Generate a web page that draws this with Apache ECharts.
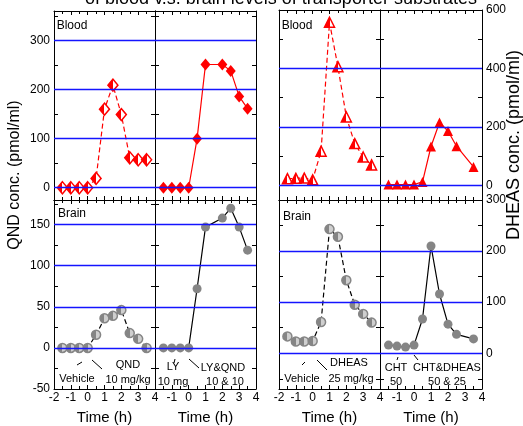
<!DOCTYPE html>
<html>
<head>
<meta charset="utf-8">
<script src="https://cdn.jsdelivr.net/npm/echarts@6/dist/echarts.min.js"></script>
<style>
html, body { margin: 0; padding: 0; background: #fff; }
#chart { width: 523px; height: 426px; }
</style>
</head>
<body>
<div id="chart"></div>
<script>
// time points (h)
var times = [-1.5, -1, -0.5, 0, 0.5, 1, 1.5, 2, 2.5, 3, 3.5];
var timesNo15 = [-1.5, -1, -0.5, 0, 0.5, 1, 2, 2.5, 3, 3.5];
var timesNo3 = [-1.5, -1, -0.5, 0, 0.5, 1, 1.5, 2, 2.5, 3.5];

// QND (pmol/ml)
var qndBlood = [0, 0, 0, 0, 19, 160, 209, 149, 61, 57, 57];
var lyQndBlood = [0, 0, 0, 0, 100, 251, 251, 238, 186, 161];
var qndBrain = [0, 0, 0, 0, 16, 36, 39, 46, 18, 11, 0];
var lyQndBrain = [0, 0, 0, 0, 72, 147, 158, 170, 147, 119];

// DHEAS (pmol/ml)
var dheasBlood = [23, 24, 25, 19, 117, 558, 406, 234, 143, 97, 70];
var chtDheasBlood = [3, 3, 3, 3, 12, 133, 215, 186, 134, 63];
var dheasBrain = [33, 23, 23, 24, 61, 243, 228, 143, 95, 77, 60];
var chtDheasBrain = [16, 14, 12, 16, 67, 210, 116, 57, 37, 28, 24];

// tick labels
var qndBloodLabels = [0, 100, 200, 300];
var qndBrainLabels = [-50, 0, 50, 100, 150];
var dheasBloodLabels = [0, 200, 400, 600];
var dheasBrainLabels = [0, 100, 200, 300];

var FONT = "'Liberation Sans', Arial, sans-serif";
var RED = '#ff0000';
var GRAY = '#858585';

function range(a, b, step) {
    var out = [];
    for (var v = a; v <= b + 1e-9; v += step) out.push(v);
    return out;
}

// y scales per row/block
var scales = {
    qndBlood: {min: -25, max: 360, labels: qndBloodLabels, ticks: range(0, 350, 50), blue: [0, 100, 200, 300]},
    qndBrain: {min: -50, max: 180, labels: qndBrainLabels, ticks: range(-25, 175, 25), blue: [0, 50, 100, 150]},
    dheasBlood: {min: -50, max: 600, labels: dheasBloodLabels, ticks: range(0, 600, 100), blue: [0, 200, 400]},
    dheasBrain: {min: -70, max: 300, labels: dheasBrainLabels, ticks: range(-50, 300, 50), blue: [0, 100, 200]}
};

var panels = [
    {rect: {left: 54, top: 11, width: 101, height: 189}, scale: 'qndBlood', labelSide: 'left', bottom: false, first: true,
     x: times, y: qndBlood, color: RED, dash: true, symbol: 'diamond'},
    {rect: {left: 155, top: 11, width: 101, height: 189}, scale: 'qndBlood', labelSide: null, bottom: false, first: false,
     x: timesNo15, y: lyQndBlood, color: RED, dash: false, symbol: 'diamond'},
    {rect: {left: 54, top: 200, width: 101, height: 190}, scale: 'qndBrain', labelSide: 'left', bottom: true, first: true,
     x: times, y: qndBrain, color: GRAY, dash: true, symbol: 'circle'},
    {rect: {left: 155, top: 200, width: 101, height: 190}, scale: 'qndBrain', labelSide: null, bottom: true, first: false,
     x: timesNo15, y: lyQndBrain, color: GRAY, dash: false, symbol: 'circle'},
    {rect: {left: 279, top: 10, width: 101, height: 190}, scale: 'dheasBlood', labelSide: null, bottom: false, first: true,
     x: times, y: dheasBlood, color: RED, dash: true, symbol: 'triangle'},
    {rect: {left: 380, top: 10, width: 102, height: 190}, scale: 'dheasBlood', labelSide: 'right', bottom: false, first: false,
     x: timesNo3, y: chtDheasBlood, color: RED, dash: false, symbol: 'triangle'},
    {rect: {left: 279, top: 200, width: 101, height: 190}, scale: 'dheasBrain', labelSide: null, bottom: true, first: true,
     x: times, y: dheasBrain, color: GRAY, dash: true, symbol: 'circle'},
    {rect: {left: 380, top: 200, width: 102, height: 190}, scale: 'dheasBrain', labelSide: 'right', bottom: true, first: false,
     x: timesNo3, y: chtDheasBrain, color: GRAY, dash: false, symbol: 'circle'}
];

var grid = [], xAxis = [], yAxis = [], series = [];

panels.forEach(function (p, i) {
    var s = scales[p.scale];
    grid.push(p.rect);

    var lineCol = p.color === RED ? RED : '#000';
    ['bottom', 'top'].forEach(function (pos) {
        var showLab = pos === 'bottom' && p.bottom;
        xAxis.push({
            type: 'value', gridIndex: i, position: pos,
            min: -2, max: 4, interval: 1,
            axisLine: {show: true, onZero: false, lineStyle: {color: '#000', width: 1}},
            axisTick: {show: true, inside: true, length: 4, lineStyle: {color: '#000'}},
            minorTick: {show: true, splitNumber: 2, length: 3, lineStyle: {color: '#000'}},
            splitLine: {show: false},
            axisLabel: {
                show: showLab, margin: 3, color: '#000', fontSize: 12, fontFamily: FONT,
                showMinLabel: p.first, showMaxLabel: true
            },
            name: showLab ? 'Time (h)' : '',
            nameLocation: 'middle', nameGap: 21,
            nameTextStyle: {fontSize: 15, fontFamily: FONT, color: '#000'}
        });
    });

    ['left', 'right'].forEach(function (pos) {
        var showLab = p.labelSide === pos;
        yAxis.push({
            type: 'value', gridIndex: i, position: pos,
            min: s.min, max: s.max,
            axisLine: {show: true, onZero: false, lineStyle: {color: '#000', width: 1}},
            axisTick: {show: true, inside: true, length: 4, customValues: s.ticks, lineStyle: {color: '#000'}},
            splitLine: {show: false},
            axisLabel: {
                show: showLab, customValues: s.labels, margin: 4,
                color: '#000', fontSize: 12, fontFamily: FONT
            }
        });
    });

    var fill;
    if (p.dash) {
        var light = p.color === RED ? '#ffffff' : '#cfcfcf';
        fill = new echarts.graphic.LinearGradient(0, 0, 1, 0, [
            {offset: 0, color: p.color}, {offset: 0.5, color: p.color},
            {offset: 0.5, color: light}, {offset: 1, color: light}
        ]);
    } else {
        fill = p.color;
    }
    var size = p.symbol === 'diamond' ? [10, 12] : (p.symbol === 'triangle' ? [10, 10] : 9);

    series.push({
        type: 'line',
        xAxisIndex: i * 2, yAxisIndex: i * 2,
        data: p.x.map(function (t, k) { return [t, p.y[k]]; }),
        symbol: p.symbol, symbolSize: size,
        showAllSymbol: true,
        lineStyle: {color: lineCol, width: 1.2, type: p.dash ? [5, 3] : 'solid'},
        itemStyle: {color: fill, borderColor: p.color, borderWidth: p.dash ? 1.5 : 0},
        animation: false,
        z: 3,
        markLine: {
            silent: true, symbol: ['none', 'none'], animation: false,
            label: {show: false},
            lineStyle: {color: '#1414ff', width: 1.3, type: 'solid'},
            emphasis: {disabled: true},
            data: s.blue.map(function (v) { return {yAxis: v}; })
        }
    });
});

// panel captions and dose annotations
var captions = [
    ['Blood', 72, 26], ['Blood', 297, 26], ['Brain', 72, 214], ['Brain', 297, 217]
];
var notes = [
    ['Vehicle', 77, 379], ['QND', 128, 365], ['10 mg/kg', 128, 380],
    ['LY', 173, 367], ['10 mg', 173, 382], ['LY&QND', 223, 368], ['10 & 10', 225, 382],
    ['Vehicle', 302, 379], ['DHEAS', 349, 363], ['25 mg/kg', 351, 379],
    ['CHT', 396, 368], ['50', 396, 382], ['CHT&DHEAS', 447, 368], ['50 & 25', 447, 382]
];
var pointers = [
    [77, 365, 82, 362], [92, 360, 102, 369], [174, 363, 175, 359], [189, 359, 199, 368],
    [302, 365, 305, 362], [317, 360, 327, 370], [397, 360, 398, 357], [414, 355, 418, 360]
];

function label(t, x, y, size, rot) {
    return {
        type: 'text', x: x, y: y, rotation: rot || 0, z: 10,
        style: {text: t, font: size + 'px ' + FONT, fill: '#000', align: 'center', verticalAlign: 'middle',
                textAlign: 'center', textVerticalAlign: 'middle'}
    };
}

var graphic = [];
captions.forEach(function (n) { graphic.push(label(n[0], n[1], n[2], 12)); });
notes.forEach(function (n) { graphic.push(label(n[0], n[1], n[2], 11)); });
pointers.forEach(function (l) {
    graphic.push({
        type: 'line', z: 10,
        shape: {x1: l[0], y1: l[1], x2: l[2], y2: l[3]},
        style: {stroke: '#000', lineWidth: 1}
    });
});
graphic.push(label('QND conc. (pmol/ml)', 15, 175, 16, Math.PI / 2));
graphic.push(label('DHEAS conc. (pmol/ml)', 514, 145, 18, Math.PI / 2));
graphic.push(label('of blood v.s. brain levels of transporter substrates', 281, -1, 18));

var myChart = echarts.init(document.getElementById('chart'));
myChart.setOption({
    backgroundColor: '#fff',
    animation: false,
    grid: grid,
    xAxis: xAxis,
    yAxis: yAxis,
    series: series,
    graphic: graphic
});
</script>
</body>
</html>
